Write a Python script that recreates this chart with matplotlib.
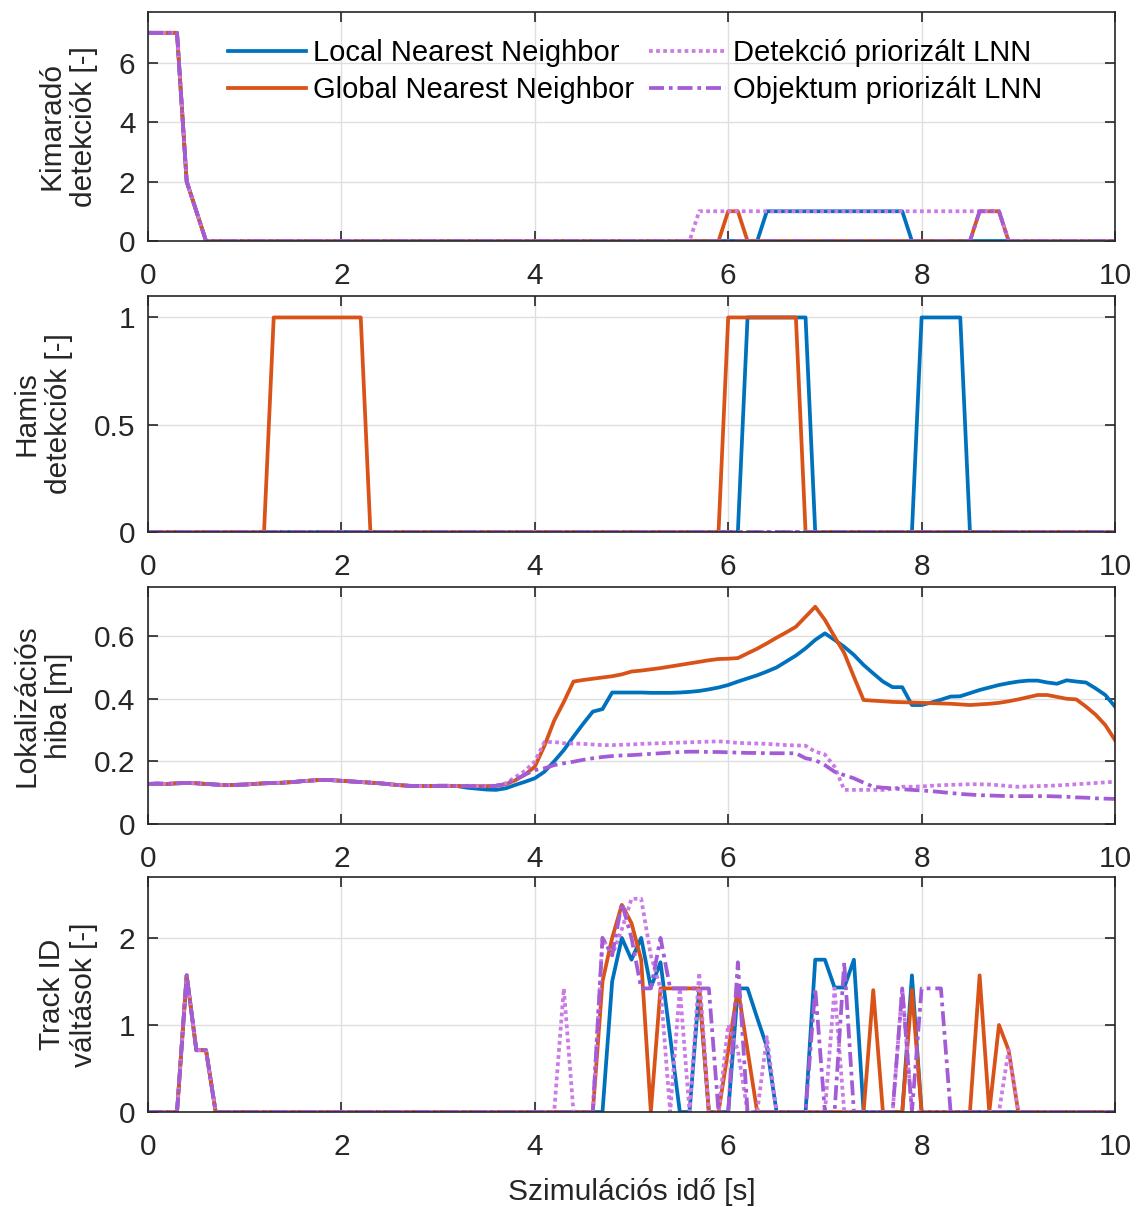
import numpy as np
import matplotlib
matplotlib.use("Agg")
import matplotlib.pyplot as plt

# ---------------- data ----------------
t = np.round(np.arange(0, 10.0001, 0.1), 1)

series_names = ["Local Nearest Neighbor", "Global Nearest Neighbor",
                "Detekció priorizált LNN", "Objektum priorizált LNN"]

# Panel 1: Kimaradó detekciók (nonzero values)
miss_start = {0.0: 7, 0.1: 7, 0.2: 7, 0.3: 7, 0.4: 2, 0.5: 1}
miss_lnn = {**miss_start, 6.4: 1, 6.5: 1, 6.6: 1, 6.7: 1, 6.8: 1, 6.9: 1, 7.0: 1, 7.1: 1,
            7.2: 1, 7.3: 1, 7.4: 1, 7.5: 1, 7.6: 1, 7.7: 1, 7.8: 1}
miss_gnn = {**miss_start, 6.0: 1, 6.1: 1, 8.6: 1, 8.7: 1, 8.8: 1}
miss_det = {**miss_start, 5.7: 1, 5.8: 1, 5.9: 1, 6.0: 1, 6.1: 1, 6.2: 1, 6.3: 1, 6.4: 1,
            6.5: 1, 6.6: 1, 6.7: 1, 6.8: 1, 6.9: 1, 7.0: 1, 7.1: 1, 7.2: 1, 7.3: 1,
            7.4: 1, 7.5: 1, 7.6: 1, 7.7: 1, 7.8: 1, 7.9: 1, 8.0: 1, 8.1: 1, 8.2: 1,
            8.3: 1, 8.4: 1, 8.5: 1, 8.6: 1, 8.7: 1, 8.8: 1}
miss_obj = {**miss_start, 8.6: 1, 8.7: 1, 8.8: 1}

# Panel 2: Hamis detekciók
false_lnn = {6.2: 1, 6.3: 1, 6.4: 1, 6.5: 1, 6.6: 1, 6.7: 1, 6.8: 1,
             8.0: 1, 8.1: 1, 8.2: 1, 8.3: 1, 8.4: 1}
false_gnn = {1.3: 1, 1.4: 1, 1.5: 1, 1.6: 1, 1.7: 1, 1.8: 1, 1.9: 1, 2.0: 1, 2.1: 1, 2.2: 1,
             6.0: 1, 6.1: 1, 6.2: 1, 6.3: 1, 6.4: 1, 6.5: 1, 6.6: 1, 6.7: 1}
false_det = {}
false_obj = {}

# Panel 3: Lokalizációs hiba [m]
base_err = [0.128, 0.129, 0.128, 0.130, 0.131, 0.130, 0.128, 0.126, 0.124, 0.125,
            0.126, 0.128, 0.130, 0.131, 0.132, 0.134, 0.137, 0.139, 0.141, 0.140,
            0.138, 0.136, 0.134, 0.132, 0.130, 0.127, 0.124, 0.122, 0.121, 0.121,
            0.122, 0.122, 0.121]
err_lnn = base_err + [0.116, 0.113, 0.110, 0.109, 0.114, 0.125, 0.135, 0.146,
           0.167, 0.200, 0.236, 0.279, 0.320, 0.359, 0.367, 0.420, 0.420, 0.420,
           0.420, 0.419, 0.419, 0.419, 0.420, 0.422, 0.425, 0.430, 0.436, 0.444,
           0.455, 0.465, 0.475, 0.487, 0.500, 0.519, 0.538, 0.561, 0.588, 0.609,
           0.588, 0.566, 0.540, 0.508, 0.481, 0.455, 0.437, 0.437, 0.380, 0.380,
           0.388, 0.397, 0.407, 0.408, 0.418, 0.428, 0.436, 0.444, 0.450, 0.455,
           0.458, 0.458, 0.452, 0.448, 0.459, 0.455, 0.452, 0.433, 0.412, 0.375]
err_gnn = base_err + [0.122, 0.121, 0.121, 0.122, 0.127, 0.140, 0.158, 0.183,
           0.250, 0.330, 0.390, 0.455, 0.460, 0.464, 0.468, 0.472, 0.478, 0.487,
           0.490, 0.494, 0.498, 0.503, 0.508, 0.513, 0.518, 0.523, 0.527, 0.528,
           0.530, 0.545, 0.560, 0.577, 0.595, 0.612, 0.630, 0.662, 0.694, 0.652,
           0.598, 0.546, 0.470, 0.396, 0.394, 0.392, 0.390, 0.389, 0.388, 0.387,
           0.386, 0.385, 0.384, 0.382, 0.380, 0.382, 0.384, 0.387, 0.392, 0.398,
           0.405, 0.412, 0.412, 0.406, 0.400, 0.398, 0.375, 0.349, 0.316, 0.268]
err_det = base_err + [0.122, 0.121, 0.121, 0.123, 0.130, 0.150, 0.170, 0.200,
           0.262, 0.262, 0.258, 0.257, 0.256, 0.254, 0.252, 0.252, 0.253, 0.254,
           0.256, 0.257, 0.258, 0.259, 0.260, 0.261, 0.262, 0.263, 0.264, 0.262,
           0.259, 0.258, 0.257, 0.256, 0.254, 0.252, 0.251, 0.250, 0.231, 0.222,
           0.183, 0.109, 0.109, 0.109, 0.109, 0.109, 0.112, 0.119, 0.119, 0.120,
           0.122, 0.124, 0.125, 0.126, 0.127, 0.127, 0.126, 0.124, 0.121, 0.119,
           0.120, 0.121, 0.122, 0.123, 0.125, 0.127, 0.129, 0.131, 0.133, 0.135]
err_obj = base_err + [0.121, 0.120, 0.120, 0.122, 0.128, 0.142, 0.158, 0.172,
           0.178, 0.188, 0.194, 0.199, 0.205, 0.210, 0.214, 0.217, 0.219, 0.220,
           0.222, 0.224, 0.226, 0.228, 0.230, 0.231, 0.231, 0.230, 0.230, 0.229,
           0.228, 0.227, 0.227, 0.226, 0.226, 0.226, 0.226, 0.210, 0.204, 0.188,
           0.167, 0.156, 0.146, 0.132, 0.119, 0.116, 0.114, 0.111, 0.109, 0.107,
           0.105, 0.102, 0.099, 0.096, 0.094, 0.092, 0.091, 0.090, 0.089, 0.089,
           0.089, 0.089, 0.089, 0.088, 0.087, 0.085, 0.084, 0.082, 0.081, 0.080]

# Panel 4: Track ID váltások (nonzero values)
sw_start = {0.4: 1.57, 0.5: 0.71, 0.6: 0.71}
sw_lnn = {**sw_start, 4.8: 1.5, 4.9: 2.0, 5.0: 1.75, 5.1: 2.0, 5.2: 1.43, 5.3: 1.72,
          5.4: 0.86, 5.7: 1.42, 6.1: 1.42, 6.2: 1.42, 6.3: 1.08, 6.4: 0.75,
          6.9: 1.75, 7.0: 1.75, 7.1: 1.43, 7.2: 1.43, 7.3: 1.75, 7.9: 1.57}
sw_gnn = {**sw_start, 4.7: 1.5, 4.8: 2.0, 4.9: 2.38, 5.0: 2.17, 5.1: 1.75, 5.3: 1.42,
          5.4: 1.42, 5.5: 1.42, 5.6: 1.42, 5.7: 1.42, 6.0: 0.71, 6.1: 1.42, 6.2: 0.71,
          7.5: 1.4, 7.9: 1.4, 8.6: 1.57, 8.8: 1.0, 8.9: 0.71}
sw_det = {**sw_start, 4.3: 1.42, 4.7: 2.0, 4.8: 1.8, 4.9: 2.1, 5.0: 2.45, 5.1: 2.45,
          5.2: 1.8, 5.3: 1.42, 5.5: 1.42, 5.7: 1.6, 6.0: 1.0, 6.1: 0.71, 6.4: 0.86,
          7.1: 1.42, 7.8: 1.42, 8.9: 0.71}
sw_obj = {**sw_start, 4.7: 2.0, 4.8: 1.8, 4.9: 2.4, 5.0: 2.0, 5.1: 1.42, 5.2: 1.42,
          5.3: 2.0, 5.4: 1.42, 5.5: 1.42, 5.6: 1.42, 5.7: 1.42, 5.8: 1.42,
          6.1: 1.72, 6.9: 1.42, 7.2: 1.72, 7.8: 1.42, 8.0: 1.42, 8.1: 1.42, 8.2: 1.42}

ylabels = ["Kimaradó\ndetekciók [-]", "Hamis\ndetekciók [-]",
           "Lokalizációs\nhiba [m]", "Track ID\nváltások [-]"]
xlabel = "Szimulációs idő [s]"


def from_dict(d):
    return np.array([d.get(float(v), 0.0) for v in t])


# ---------------- style ----------------
plt.rcParams['font.family'] = ['Liberation Sans', 'DejaVu Sans']
colors = ['#0072BD', '#D95319', '#CC7AE6', '#A35CD6']
styles = ['-', '-', (0, (1, 0.9)), (0, (4, 1.3, 1, 1.3))]
lw = 2.7
FS = 21.5

W, H = 1138, 1207
fig = plt.figure(figsize=(W / 100, H / 100), dpi=100)

left, right = 148 / W, 1115 / W
boxes = [(12, 241), (296, 532), (587, 824), (877, 1112)]

panels = [
    [from_dict(miss_lnn), from_dict(miss_gnn), from_dict(miss_det), from_dict(miss_obj)],
    [from_dict(false_lnn), from_dict(false_gnn), from_dict(false_det), from_dict(false_obj)],
    [np.array(err_lnn), np.array(err_gnn), np.array(err_det), np.array(err_obj)],
    [from_dict(sw_lnn), from_dict(sw_gnn), from_dict(sw_det), from_dict(sw_obj)],
]
ylims = [(0, 7.7), (0, 1.1), (0, 0.757), (0, 2.7)]
yticks = [[0, 2, 4, 6], [0, 0.5, 1], [0, 0.2, 0.4, 0.6], [0, 1, 2]]
yticklabels = [["0", "2", "4", "6"], ["0", "0.5", "1"], ["0", "0.2", "0.4", "0.6"], ["0", "1", "2"]]

axes = []
for i, (top, bot) in enumerate(boxes):
    ax = fig.add_axes([left, 1 - bot / H, right - left, (bot - top) / H])
    for k in range(4):
        ax.plot(t, panels[i][k], color=colors[k], linestyle=styles[k], lw=lw,
                label=series_names[k])
    ax.set_xlim(0, 10)
    ax.set_ylim(*ylims[i])
    ax.set_xticks([0, 2, 4, 6, 8, 10])
    ax.set_xticklabels(["0", "2", "4", "6", "8", "10"])
    ax.set_yticks(yticks[i])
    ax.set_yticklabels(yticklabels[i])
    ax.grid(True, color='#DFDFDF', linewidth=1.0)
    ax.set_axisbelow(True)
    ax.tick_params(direction='in', length=7, width=1.2, labelsize=FS, colors='#262626',
                   top=True, right=True)
    ax.tick_params(axis='x', pad=15)
    ax.tick_params(axis='y', pad=9)
    for s in ax.spines.values():
        s.set_color('#262626')
        s.set_linewidth(1.2)
    ax.set_ylabel(ylabels[i], fontsize=FS, color='#262626', labelpad=15)
    axes.append(ax)

axes[-1].set_xlabel(xlabel, fontsize=FS, color='#262626', labelpad=12)

h, l = axes[0].get_legend_handles_labels()
axes[0].legend(h, l, ncol=2, loc='upper left', bbox_to_anchor=(0.056, 0.995), frameon=False,
               fontsize=FS - 0.5, handlelength=2.65, handletextpad=0.25, columnspacing=0.5,
               labelspacing=0.3)

fig.savefig("out.png", dpi=100)
